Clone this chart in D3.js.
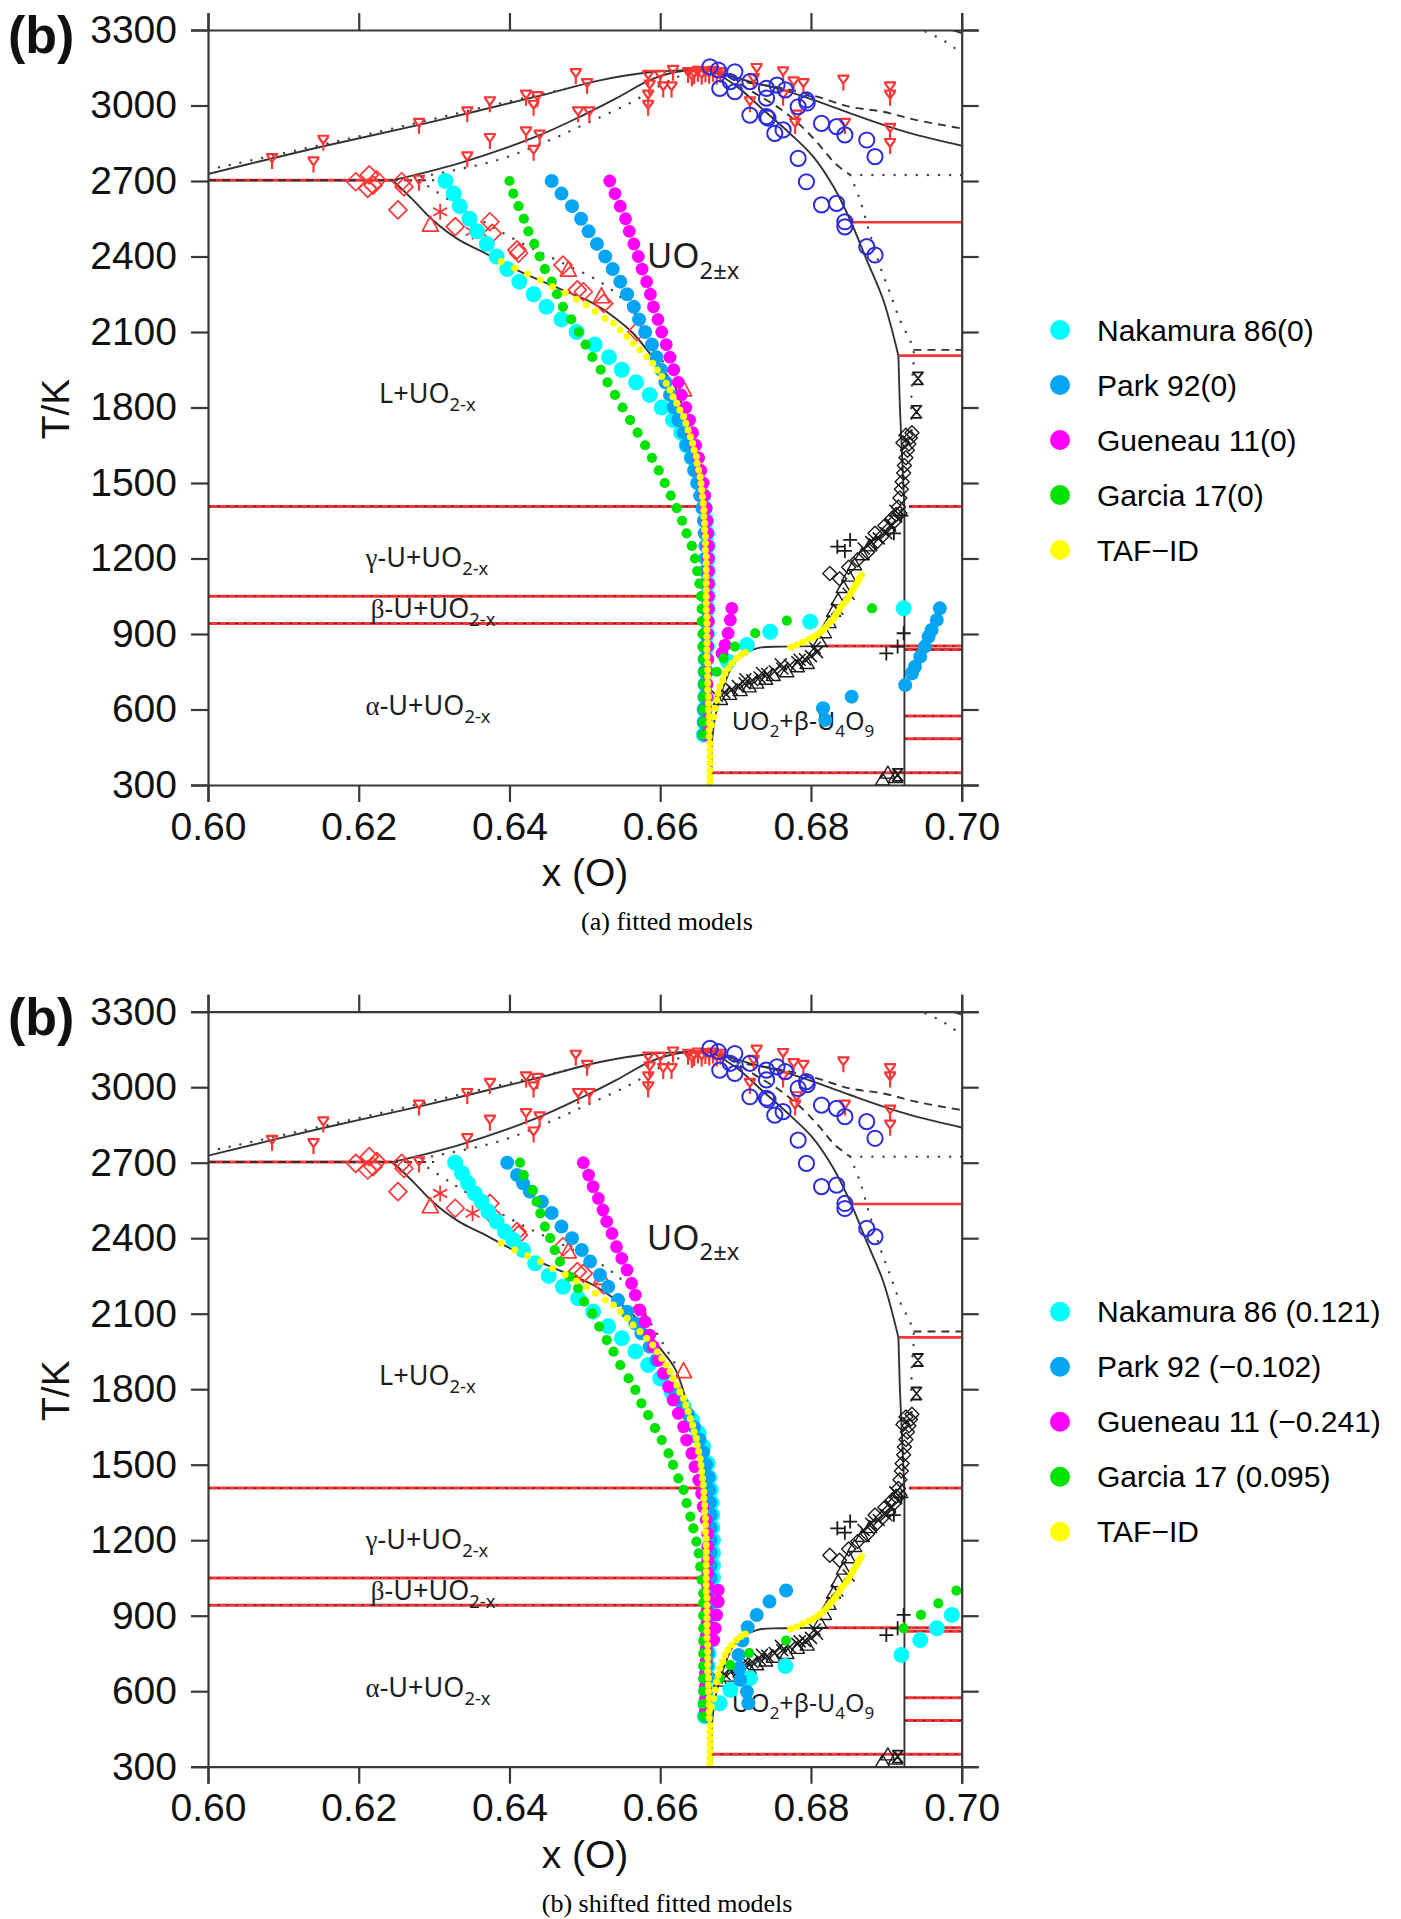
<!DOCTYPE html>
<html><head><meta charset="utf-8">
<script src="https://cdn.jsdelivr.net/npm/d3@7/dist/d3.min.js"></script>
<style>html,body{margin:0;padding:0;background:#fff}svg{display:block}</style>
</head><body>
<svg id="chart" width="1401" height="1919"></svg>
<script>
// ================= DATA =================
const xTicks=[0.60,0.62,0.64,0.66,0.68,0.70];
const tTicks=[300,600,900,1200,1500,1800,2100,2400,2700,3000,3300];
const legendA=["Nakamura 86(0)","Park 92(0)","Gueneau 11(0)","Garcia 17(0)","TAF\u2212ID"];
const legendB=["Nakamura 86 (0.121)","Park 92 (\u22120.102)","Gueneau 11 (\u22120.241)","Garcia 17 (0.095)","TAF\u2212ID"];
const captions=["(a) fitted models","(b) shifted fitted models"];
const panelTag="(b)";

// fitted models (panel a): [x(O), T/K]
const nakamuraA=[[0.6315,2700],[0.6326,2650],[0.6334,2600],[0.6347,2550],[0.6357,2500],[0.6370,2450],[0.6383,2400],[0.6397,2350],[0.6413,2300],[0.6432,2250],[0.6449,2200],[0.6469,2150],[0.6489,2100],[0.6513,2050],[0.6532,2000],[0.6549,1950],[0.6568,1900],[0.6586,1850],[0.6602,1800],[0.6617,1750],[0.6628,1700],[0.6635,1650],[0.6642,1600],[0.6648,1550],[0.6653,1500],[0.6657,1450],[0.6659,1400],[0.6661,1350],[0.6662,1300],[0.6663,1250],[0.6663,1200],[0.6663,1150],[0.6663,1100],[0.6663,1050],[0.6663,1000],[0.6662,950],[0.6662,900],[0.6662,850],[0.6661,800],[0.6661,750],[0.6660,700],[0.6660,650],[0.6659,600],[0.6659,550],[0.6658,500],[0.6690,790],[0.6715,856],[0.6746,909],[0.6799,949],[0.6923,1002]];
const parkA=[[0.6456,2700],[0.6469,2650],[0.6483,2600],[0.6495,2550],[0.6505,2500],[0.6516,2450],[0.6527,2400],[0.6537,2350],[0.6547,2300],[0.6556,2250],[0.6565,2200],[0.6572,2150],[0.6580,2100],[0.6589,2050],[0.6595,2000],[0.6601,1950],[0.6607,1900],[0.6613,1850],[0.6618,1800],[0.6624,1750],[0.6631,1700],[0.6635,1650],[0.6641,1600],[0.6645,1550],[0.6649,1500],[0.6653,1450],[0.6656,1400],[0.6658,1350],[0.6659,1300],[0.6660,1250],[0.6660,1200],[0.6660,1150],[0.6660,1100],[0.6660,1050],[0.6660,1000],[0.6660,950],[0.6660,900],[0.6659,850],[0.6659,800],[0.6659,750],[0.6659,700],[0.6659,650],[0.6658,600],[0.6658,550],[0.6658,500],[0.6925,697],[0.6934,744],[0.6938,770],[0.6945,810],[0.6951,850],[0.6956,889],[0.6960,916],[0.6967,956],[0.6971,1002],[0.6816,605],[0.6854,651],[0.6819,558]];
const gueneauA=[[0.6533,2700],[0.6540,2650],[0.6547,2600],[0.6554,2550],[0.6559,2500],[0.6565,2450],[0.6571,2400],[0.6576,2350],[0.6582,2300],[0.6587,2250],[0.6591,2200],[0.6597,2150],[0.6602,2100],[0.6608,2050],[0.6613,2000],[0.6618,1950],[0.6624,1900],[0.6628,1850],[0.6634,1800],[0.6639,1750],[0.6643,1700],[0.6647,1650],[0.6651,1600],[0.6654,1550],[0.6657,1500],[0.6659,1450],[0.6661,1400],[0.6662,1350],[0.6663,1300],[0.6664,1250],[0.6664,1200],[0.6664,1150],[0.6664,1100],[0.6664,1050],[0.6664,1000],[0.6664,950],[0.6663,900],[0.6663,850],[0.6663,800],[0.6662,750],[0.6662,700],[0.6662,650],[0.6661,600],[0.6661,550],[0.6660,500],[0.6695,1002],[0.6693,956],[0.6690,903],[0.6686,856],[0.6682,823]];
const garciaA=[[0.6400,2700],[0.6405,2650],[0.6412,2600],[0.6419,2550],[0.6425,2500],[0.6433,2450],[0.6440,2400],[0.6447,2350],[0.6456,2300],[0.6463,2250],[0.6471,2200],[0.6482,2150],[0.6492,2100],[0.6501,2050],[0.6510,2000],[0.6521,1950],[0.6530,1900],[0.6540,1850],[0.6550,1800],[0.6560,1750],[0.6570,1700],[0.6580,1650],[0.6589,1600],[0.6598,1550],[0.6606,1500],[0.6614,1450],[0.6622,1400],[0.6629,1350],[0.6635,1300],[0.6642,1250],[0.6646,1200],[0.6649,1150],[0.6652,1100],[0.6654,1050],[0.6655,1000],[0.6655,950],[0.6656,900],[0.6656,850],[0.6657,800],[0.6657,750],[0.6657,700],[0.6657,650],[0.6657,600],[0.6657,550],[0.6657,500],[0.6675,750],[0.6684,803],[0.6699,850],[0.6726,903],[0.6768,953],[0.6881,1002]];

// shifted fitted models (panel b)
const nakamuraB=[[0.6328,2700],[0.6337,2658],[0.6345,2618],[0.6354,2578],[0.6363,2545],[0.6372,2505],[0.6383,2466],[0.6394,2426],[0.6405,2393],[0.6418,2353],[0.6434,2300],[0.6452,2250],[0.6471,2207],[0.6491,2161],[0.6511,2108],[0.6531,2050],[0.6549,2002],[0.6567,1950],[0.6584,1896],[0.6600,1843],[0.6615,1790],[0.6631,1731],[0.6642,1678],[0.6651,1625],[0.6657,1572],[0.6663,1505],[0.6665,1450],[0.6667,1400],[0.6668,1350],[0.6669,1300],[0.6669,1250],[0.6670,1200],[0.6670,1150],[0.6670,1100],[0.6670,1050],[0.6669,1000],[0.6668,950],[0.6667,900],[0.6666,850],[0.6665,800],[0.6664,750],[0.6663,700],[0.6662,650],[0.6661,600],[0.6660,550],[0.6659,500],[0.6679,552],[0.6693,605],[0.6719,651],[0.6766,700],[0.6920,744],[0.6945,803],[0.6967,850],[0.6987,903]];
const parkB=[[0.6397,2700],[0.6410,2651],[0.6418,2618],[0.6427,2585],[0.6443,2545],[0.6456,2500],[0.6469,2446],[0.6483,2400],[0.6496,2353],[0.6507,2307],[0.6520,2254],[0.6531,2207],[0.6544,2154],[0.6556,2108],[0.6567,2062],[0.6575,2022],[0.6586,1969],[0.6595,1916],[0.6606,1863],[0.6618,1800],[0.6628,1750],[0.6637,1700],[0.6645,1650],[0.6652,1600],[0.6657,1550],[0.6661,1500],[0.6664,1450],[0.6665,1400],[0.6666,1350],[0.6667,1300],[0.6667,1250],[0.6667,1200],[0.6667,1150],[0.6667,1100],[0.6667,1050],[0.6666,1000],[0.6666,950],[0.6665,900],[0.6665,850],[0.6664,800],[0.6663,750],[0.6662,700],[0.6662,650],[0.6661,600],[0.6660,550],[0.6660,500],[0.6717,552],[0.6715,598],[0.6706,645],[0.6705,691],[0.6704,744],[0.6709,801],[0.6716,854],[0.6728,903],[0.6745,956],[0.6767,1000]];
const gueneauB=[[0.6498,2700],[0.6505,2651],[0.6511,2605],[0.6518,2558],[0.6524,2512],[0.6529,2466],[0.6536,2419],[0.6542,2366],[0.6549,2320],[0.6556,2274],[0.6562,2221],[0.6567,2174],[0.6573,2115],[0.6580,2068],[0.6586,2015],[0.6591,1969],[0.6598,1916],[0.6604,1863],[0.6611,1810],[0.6617,1757],[0.6624,1704],[0.6631,1651],[0.6635,1598],[0.6642,1545],[0.6646,1492],[0.6651,1439],[0.6655,1386],[0.6657,1333],[0.6661,1280],[0.6663,1227],[0.6663,1175],[0.6663,1120],[0.6663,1070],[0.6663,1020],[0.6663,970],[0.6662,920],[0.6662,870],[0.6661,820],[0.6661,770],[0.6661,720],[0.6660,670],[0.6660,620],[0.6660,570],[0.6660,520],[0.6677,1002],[0.6677,956],[0.6675,903],[0.6673,850],[0.6671,803]];
const garciaB=[[0.6414,2700],[0.6419,2651],[0.6431,2591],[0.6436,2545],[0.6441,2499],[0.6447,2446],[0.6454,2400],[0.6460,2353],[0.6467,2307],[0.6480,2247],[0.6491,2201],[0.6499,2148],[0.6510,2101],[0.6519,2049],[0.6529,1995],[0.6538,1949],[0.6547,1896],[0.6558,1843],[0.6567,1797],[0.6575,1744],[0.6584,1697],[0.6593,1645],[0.6602,1598],[0.6611,1545],[0.6617,1499],[0.6624,1446],[0.6631,1400],[0.6635,1347],[0.6640,1294],[0.6644,1247],[0.6648,1194],[0.6651,1148],[0.6653,1095],[0.6655,1042],[0.6657,989],[0.6657,950],[0.6657,900],[0.6657,850],[0.6657,800],[0.6657,750],[0.6657,700],[0.6657,650],[0.6657,600],[0.6657,550],[0.6657,500],[0.6679,651],[0.6693,704],[0.6718,751],[0.6767,801],[0.6923,850],[0.6946,903],[0.6969,949],[0.6993,1000]];

// TAF-ID (same in both panels)
const tafid=[[0.6389,2380],[0.6407,2353],[0.6424,2330],[0.6441,2307],[0.6457,2280],[0.6474,2256],[0.6489,2230],[0.6502,2207],[0.6514,2181],[0.6527,2154],[0.6538,2135],[0.6547,2108],[0.6556,2082],[0.6564,2055],[0.6573,2029],[0.6582,2002],[0.6590,1976],[0.6596,1949],[0.6602,1923],[0.6608,1896],[0.6613,1870],[0.6617,1843],[0.6622,1817],[0.6626,1790],[0.6631,1764],[0.6634,1737],[0.6637,1711],[0.6640,1684],[0.6643,1658],[0.6645,1631],[0.6648,1605],[0.6649,1578],[0.6651,1552],[0.6653,1525],[0.6654,1499],[0.6655,1473],[0.6656,1446],[0.6657,1420],[0.6658,1393],[0.6658,1367],[0.6659,1340],[0.6659,1314],[0.6660,1287],[0.6660,1261],[0.6660,1234],[0.6661,1208],[0.6661,1181],[0.6661,1155],[0.6661,1128],[0.6661,1102],[0.6661,1075],[0.6661,1049],[0.6661,1022],[0.6661,996],[0.6662,970],[0.6662,943],[0.6662,917],[0.6662,890],[0.6662,864],[0.6662,837],[0.6662,811],[0.6663,784],[0.6663,758],[0.6663,731],[0.6663,705],[0.6663,678],[0.6664,652],[0.6664,625],[0.6664,599],[0.6665,572],[0.6665,546],[0.6665,519],[0.6665,493],[0.6666,466],[0.6666,440],[0.6666,413],[0.6666,387],[0.6666,360],[0.6666,334],[0.6666,310],
[0.6668,538],[0.6671,571],[0.6673,605],[0.6675,638],[0.6677,664],[0.6679,691],[0.6683,717],[0.6686,744],[0.6690,764],[0.6695,784],[0.6701,803],[0.6707,817],[0.6713,827],
[0.6773,847],[0.6781,856],[0.6789,867],[0.6797,879],[0.6803,887],[0.6808,896],[0.6812,905],[0.6816,916],[0.6820,928],[0.6823,940],[0.6827,952],[0.6830,962],[0.6833,976],[0.6836,989],[0.6839,1005],[0.6843,1019],[0.6847,1034],[0.6850,1048],[0.6853,1063],[0.6856,1078],[0.6859,1093],[0.6862,1108],[0.6864,1121],[0.6867,1134]];

// ---- background U-O phase diagram (same in both panels) ----
const liqL=[[0.600,2728],[0.615,2836],[0.628,2923],[0.6435,3035],[0.652,3100],[0.6586,3132],[0.664,3141],[0.6667,3142]];
const liqR=[[0.6667,3142],[0.6719,3095],[0.6763,3062],[0.6803,3022],[0.6852,2969],[0.6896,2923],[0.6940,2883],[0.7000,2840]];
const solHypo=[[0.6245,2703],[0.6333,2770],[0.6435,2876],[0.6498,2962],[0.6542,3029],[0.6586,3101],[0.6622,3134],[0.6667,3142]];
const uo2Hypo=[[0.6245,2703],[0.6272,2625],[0.6298,2545],[0.6333,2466],[0.6364,2419],[0.6410,2346],[0.6460,2280],[0.6511,2214],[0.6538,2161],[0.6564,2095],[0.6586,2015],[0.6600,1962],[0.6620,1880],[0.6635,1750],[0.6645,1630],[0.6652,1530],[0.6657,1407],[0.6661,1200],[0.6663,1000],[0.6665,800],[0.6667,600],[0.6668,450],[0.6668,300]];
const uo2Hyper=[[0.6667,3142],[0.6702,3075],[0.6737,2982],[0.6772,2889],[0.6803,2797],[0.6830,2677],[0.6852,2545],[0.6874,2386],[0.6896,2227],[0.6916,2006]];
const u4o9Line=[[0.6916,2006],[0.6918,1800],[0.6924,1400],[0.6924,300]];
const uo2Low=[[0.6668,450],[0.6673,572],[0.6684,691],[0.6701,797],[0.6728,843],[0.6760,850],[0.6820,852]];
const cornerSolid=[[0.6988,3300],[0.7000,3288]];
const liqRDash=[[0.6680,3130],[0.6702,3101],[0.6763,3068],[0.6808,3035],[0.6852,2995],[0.6896,2975],[0.6940,2942],[0.7000,2909]];
const hyperDash=[[0.6690,3115],[0.6725,3050],[0.6760,2985],[0.6790,2910],[0.6812,2840],[0.6832,2770],[0.6852,2724]];
const dash2029=[[0.6936,2029],[0.7000,2029]];
const dash2703=[[0.600,2703],[0.6300,2703]];
const liqLDot=[[0.600,2745],[0.613,2830],[0.625,2912],[0.638,3003],[0.648,3070]];
const solDot=[[0.6283,2717],[0.6384,2783],[0.6454,2863],[0.6498,2923],[0.6560,3010],[0.6620,3110],[0.6650,3135]];
const hypoDot=[[0.6280,2703],[0.6320,2625],[0.6365,2540],[0.6415,2455],[0.6470,2375],[0.6525,2290],[0.6560,2200],[0.6580,2100],[0.6600,2000],[0.6620,1900]];
const hyperDot=[[0.6852,2724],[0.6865,2625],[0.6878,2492],[0.6892,2359],[0.6905,2254],[0.6918,2148],[0.6929,2081],[0.6936,2029],[0.6934,1900],[0.6933,1780],[0.6934,1690]];
const dot2724=[[0.6852,2724],[0.7000,2724]];
const cornerDot=[[0.6952,3293],[0.6970,3268],[0.6990,3230],[0.6996,3207]];
const redLinesPlain=[[2536,0.6854,0.700],[2006,0.6916,0.700]];
const redLinesDotted=[[2703,0.600,0.6245],[1407,0.600,0.6657],[1050,0.600,0.6663],[942,0.600,0.6663],[1407,0.6930,0.700],[852,0.6820,0.700],[838,0.6924,0.700],[574,0.6924,0.700],[484,0.6924,0.700],[349,0.6668,0.700]];
// experimental points
const redY=[[0.6085,2783],[0.6140,2770],[0.6153,2856],[0.6280,2923],[0.6344,2969],[0.6374,3009],[0.6422,3035],[0.6437,3029],[0.6432,2995],[0.6488,3121],[0.6503,3081],[0.6344,2790],[0.6374,2863],[0.6422,2889],[0.6440,2876],[0.6432,2816],[0.6491,2969],[0.6506,2969],[0.6280,2697],[0.6584,3114],[0.6586,3075],[0.6600,3114],[0.6604,3068],[0.6615,3068],[0.6617,3134],[0.6584,3035],[0.6584,2995],[0.6637,3125],[0.6645,3120],[0.6650,3130],[0.6655,3118],[0.6660,3128],[0.6665,3122],[0.6670,3130],[0.6675,3118],[0.6680,3125],[0.6642,3112],[0.6728,3141],[0.6724,3101],[0.6763,3128],[0.6777,3088],[0.6790,3081],[0.6843,3095],[0.6905,3068],[0.6905,3035],[0.6905,2903],[0.6905,2843],[0.6719,3009],[0.6781,2956],[0.6779,2923],[0.6845,2923],[0.6763,3035]];
const redDiamonds=[[0.6196,2697],[0.6214,2724],[0.6219,2684],[0.6212,2671],[0.6224,2704],[0.6257,2697],[0.6260,2677],[0.6252,2585],[0.6328,2519],[0.6374,2538],[0.6377,2492],[0.6410,2426],[0.6412,2413],[0.6471,2366],[0.6498,2260],[0.6525,2214],[0.6569,2101],[0.6490,2267]];
const redTriangles=[[0.6295,2525],[0.6478,2346],[0.6522,2240],[0.6631,1870]];
const redStars=[[0.6308,2578],[0.6351,2499]];
const blueCircles=[[0.6666,3154],[0.6677,3141],[0.6699,3134],[0.6679,3068],[0.6699,3055],[0.6719,3095],[0.6693,3095],[0.6741,3068],[0.6755,3081],[0.6766,3062],[0.6741,3029],[0.6741,2956],[0.6743,2950],[0.6719,2962],[0.6752,2889],[0.6763,2903],[0.6783,2995],[0.6794,3022],[0.6795,3010],[0.6814,2929],[0.6834,2916],[0.6845,2883],[0.6874,2863],[0.6885,2797],[0.6783,2790],[0.6794,2697],[0.6814,2605],[0.6834,2611],[0.6845,2538],[0.6845,2518],[0.6874,2439],[0.6885,2406]];
const blackX=[[0.6675,655],[0.6685,668],[0.6695,680],[0.6703,693],[0.6712,703],[0.6722,716],[0.6732,727],[0.6742,741],[0.6752,752],[0.6762,763],[0.6772,776],[0.6782,788],[0.6792,800],[0.6800,812],[0.6808,828],[0.6713,720],[0.6735,745],[0.6760,780],[0.6785,798],[0.6805,845],[0.6890,1280],[0.6900,1300],[0.6905,1330],[0.6880,1265],[0.6870,1240],[0.6912,1390],[0.6835,1000],[0.6850,1060]];
const blackTri=[[0.6680,640],[0.6692,660],[0.6706,675],[0.6718,690],[0.6728,705],[0.6740,720],[0.6750,735],[0.6768,750],[0.6782,770],[0.6795,783],[0.6812,870],[0.6818,905],[0.6824,945],[0.6830,990],[0.6836,1035],[0.6843,1085],[0.6850,1130],[0.6858,1175],[0.6868,1215],[0.6878,1250],[0.6902,347],[0.6912,330],[0.6895,320]];
const blackDiamonds=[[0.6825,1140],[0.6838,1120],[0.6850,1165],[0.6862,1195],[0.6875,1225],[0.6886,1262],[0.6895,1290],[0.6903,1315],[0.6910,1345],[0.6913,1375],[0.6916,1405],[0.6918,1440],[0.6920,1475],[0.6921,1505],[0.6923,1540],[0.6924,1570],[0.6926,1600],[0.6928,1630],[0.6930,1655],[0.6932,1680],[0.6934,1700],[0.6922,1660],[0.6926,1690],[0.6918,1380],[0.6908,1360],[0.6898,1330],[0.6885,1300]];
const blackPlus=[[0.6835,1247],[0.6852,1274],[0.6900,823],[0.6915,850],[0.6923,903],[0.6910,1300],[0.6920,1370],[0.6845,1230]];
const blackHourglass=[[0.6942,1916],[0.6940,1783],[0.6915,340]];

// region labels: part kinds: n normal, s subscript, g greek
const regionText=[
 [["UO","n"],["2\u00b1x","s"]],
 [["L+UO","n"],["2-x","s"]],
 [["\u03b3","g"],["-U+UO","n"],["2-x","s"]],
 [["\u03b2","g"],["-U+UO","n"],["2-x","s"]],
 [["\u03b1","g"],["-U+UO","n"],["2-x","s"]],
 [["UO","n"],["2","s"],["+\u03b2-U","n"],["4","s"],["O","n"],["9","s"]]
];

// ================= DRAWING =================
const regionPos=[[0.6582,2354,35],[0.6227,1818,27],[0.6209,1166,27],[0.6216,964,27],[0.6209,578,27],[0.6695,519,25]];
const panels=[
 {top:30, legend:legendA, caption:captions[0], series:[nakamuraA,parkA,gueneauA,garciaA,tafid]},
 {top:1011.7, legend:legendB, caption:captions[1], series:[nakamuraB,parkB,gueneauB,garciaB,tafid]}
];
const FONT='"Liberation Sans", Arial, Helvetica, sans-serif';
const LFONT='"Noto Sans", "Open Sans", "Liberation Sans", sans-serif';
const SERIF='"Liberation Serif", "DejaVu Serif", serif';
const colors=["#00ffff","#06a5f4","#ff00ff","#00e300","#ffff00"];
const radii=[8,7,6.4,5.1,3.5];
const PX0=208, PX1=961.7, PH=755, TICK=17;
const AX="#383838";
const RED="#ff3434";
const svg=d3.select('#chart');

panels.forEach((p,pi)=>{
  const x=d3.scaleLinear().domain([0.6,0.7]).range([PX0,PX1]);
  const y=d3.scaleLinear().domain([300,3300]).range([p.top+PH,p.top]);
  const g=svg.append('g');
  const clipId='clip'+pi;
  g.append('clipPath').attr('id',clipId).append('rect')
    .attr('x',PX0).attr('y',p.top).attr('width',PX1-PX0).attr('height',PH);
  const bg=g.append('g').attr('clip-path',`url(#${clipId})`);
  const line=d3.line().x(d=>x(d[0])).y(d=>y(d[1]));
  const curve=d3.line().x(d=>x(d[0])).y(d=>y(d[1])).curve(d3.curveCatmullRom.alpha(0.5));

  redLinesPlain.forEach(([T,a,b])=>{
    bg.append('line').attr('x1',x(a)).attr('x2',x(b)).attr('y1',y(T)).attr('y2',y(T))
      .attr('stroke',RED).attr('stroke-width',2.6);
  });
  redLinesDotted.forEach(([T,a,b])=>{
    bg.append('line').attr('x1',x(a)).attr('x2',x(b)).attr('y1',y(T)).attr('y2',y(T))
      .attr('stroke',RED).attr('stroke-width',3);
    bg.append('line').attr('x1',x(a)).attr('x2',x(b)).attr('y1',y(T)).attr('y2',y(T))
      .attr('stroke','#333').attr('stroke-width',1.1).attr('stroke-dasharray','3,6');
  });
  const solid=(d,c)=>bg.append('path').attr('d',(c?curve:line)(d)).attr('fill','none').attr('stroke','#333').attr('stroke-width',1.9);
  const dashed=(d,c)=>bg.append('path').attr('d',(c?curve:line)(d)).attr('fill','none').attr('stroke','#333').attr('stroke-width',1.9).attr('stroke-dasharray','8,6');
  const dotted=(d,c)=>bg.append('path').attr('d',(c?curve:line)(d)).attr('fill','none').attr('stroke','#444').attr('stroke-width',2.4).attr('stroke-linecap','round').attr('stroke-dasharray','0.1,11');
  solid(liqL,true); solid(liqR,true); solid(solHypo,true); solid(uo2Hypo,true);
  solid(uo2Hyper,true); solid(u4o9Line,false); solid(uo2Low,true); solid(cornerSolid,false);
  dashed(liqRDash,true); dashed(hyperDash,true); dashed(dash2029,false); dashed(dash2703,false);
  dotted(liqLDot,true); dotted(solDot,true); dotted(hypoDot,true); dotted(hyperDot,true);
  dotted(dot2724,false); dotted(cornerDot,true);

  const sym=(arr,path,stroke,sw)=>bg.append('g').selectAll('path').data(arr).join('path')
    .attr('transform',d=>`translate(${x(d[0])},${y(d[1])})`).attr('d',path)
    .attr('fill','none').attr('stroke',stroke).attr('stroke-width',sw).attr('stroke-linejoin','round');
  sym(redY,"M-6,-6H6M-5,-5L0,2L5,-5M0,2V9",RED,2.2);
  sym(redDiamonds,"M0,-9L9,0L0,9L-9,0Z",RED,1.7);
  sym(redTriangles,"M0,-9L8,6H-8Z",RED,1.7);
  sym(redStars,"M0,-8V8M-7,-4L7,4M-7,4L7,-4",RED,1.8);
  bg.append('g').selectAll('circle').data(blueCircles).join('circle')
    .attr('cx',d=>x(d[0])).attr('cy',d=>y(d[1])).attr('r',7.6)
    .attr('fill','none').attr('stroke','#2b2be0').attr('stroke-width',2);
  sym(blackX,"M-6,-6L6,6M-6,6L6,-6","#1a1a1a",1.5);
  sym(blackTri,"M0,-7L7,5H-7Z","#1a1a1a",1.4);
  sym(blackDiamonds,"M0,-7L7,0L0,7L-7,0Z","#1a1a1a",1.4);
  sym(blackPlus,"M-7,0H7M0,-7V7","#1a1a1a",1.8);
  sym(blackHourglass,"M-5,-6H5L-5,6H5Z","#1a1a1a",1.8);

  regionText.forEach((parts,i)=>{
    const [vx,vt,fs]=regionPos[i];
    const t=bg.append('text').attr('x',x(vx)).attr('y',y(vt))
      .attr('font-family',LFONT).attr('font-size',fs).attr('fill','#1e1e1e');
    let shifted=false;
    parts.forEach(([s,k])=>{
      const sp=t.append('tspan').text(s);
      if(k==='s'){
        sp.attr('font-size',fs*0.68);
        if(!shifted){sp.attr('dy',fs*0.3);shifted=true;}
      } else {
        if(shifted){sp.attr('dy',-fs*0.3);shifted=false;}
        if(k==='g'){sp.attr('font-family',SERIF);}
      }
    });
  });

  p.series.forEach((data,si)=>{
    g.append('g').selectAll('circle').data(data).join('circle')
      .attr('cx',d=>x(d[0])).attr('cy',d=>y(d[1])).attr('r',radii[si]).attr('fill',colors[si]);
  });

  const styleAxis=sel=>{
    sel.selectAll('.domain').attr('stroke',AX).attr('stroke-width',2.2);
    sel.selectAll('.tick line').attr('stroke',AX).attr('stroke-width',2.2);
    sel.selectAll('text').attr('font-family',FONT).attr('font-size',39).attr('fill','#111');
  };
  g.append('g').attr('transform',`translate(${PX0},0)`)
    .call(d3.axisLeft(y).tickValues(tTicks).tickSize(TICK).tickSizeOuter(TICK).tickPadding(14).tickFormat(d3.format('d'))).call(styleAxis);
  g.append('g').attr('transform',`translate(0,${p.top+PH})`)
    .call(d3.axisBottom(x).tickValues(xTicks).tickSize(TICK).tickSizeOuter(TICK).tickPadding(10).tickFormat(d3.format('.2f'))).call(styleAxis);
  g.append('g').attr('transform',`translate(0,${p.top})`)
    .call(d3.axisTop(x).tickValues(xTicks).tickSize(TICK).tickSizeOuter(TICK).tickFormat('')).call(styleAxis);
  g.append('g').attr('transform',`translate(${PX1},0)`)
    .call(d3.axisRight(y).tickValues(tTicks).tickSize(TICK).tickSizeOuter(TICK).tickFormat('')).call(styleAxis);

  g.append('text').attr('x',585).attr('y',p.top+856).attr('text-anchor','middle')
    .attr('font-family',FONT).attr('font-size',39).attr('fill','#111').text('x (O)');
  g.append('text').attr('transform',`translate(69,${p.top+379}) rotate(-90)`).attr('text-anchor','middle')
    .attr('font-family',FONT).attr('font-size',39).attr('fill','#111').text('T/K');
  g.append('text').attr('x',8).attr('y',p.top+23).attr('font-family',FONT).attr('font-weight','bold')
    .attr('font-size',52).attr('fill','#111').text(panelTag);

  p.legend.forEach((name,i)=>{
    const cy=p.top+300+i*55;
    g.append('circle').attr('cx',1060).attr('cy',cy).attr('r',10).attr('fill',colors[i]);
    g.append('text').attr('x',1097).attr('y',cy).attr('dy','0.35em').attr('font-family',FONT)
      .attr('font-size',30).attr('fill','#000').text(name);
  });

  g.append('text').attr('x',667).attr('y',p.top+900).attr('text-anchor','middle')
    .attr('font-family',SERIF).attr('font-size',26).attr('fill','#000').text(p.caption);
});
</script>
</body></html>
